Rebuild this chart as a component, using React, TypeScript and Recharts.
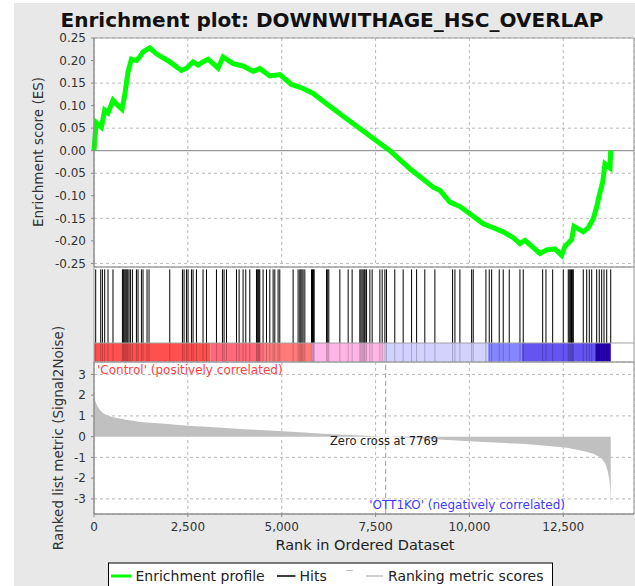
import {
  LineChart, Line, ComposedChart, Area, XAxis, YAxis, CartesianGrid,
  ReferenceLine, ReferenceArea,
} from "recharts";

const W = 635;
const H = 586;
const FONT = "DejaVu Sans";
const RANK_MAX = 14384;
const ZERO_CROSS = 7769;

const X_TICKS = [0, 2500, 5000, 7500, 10000, 12500];
const ES_TICKS = [0.25, 0.2, 0.15, 0.1, 0.05, 0, -0.05, -0.1, -0.15, -0.2, -0.25];
const METRIC_TICKS = [3, 2, 1, 0, -1, -2, -3];

// running enrichment score
const esRanks = [
  0, 30, 64, 197, 285, 373, 506, 640, 746, 818,
  906, 997, 1130, 1218, 1306, 1485, 1663, 2018, 2329, 2463,
  2639, 2772, 2905, 3038, 3305, 3438, 3705, 3971, 4238, 4416,
  4683, 4949, 5261, 5570, 5837, 6194, 6727, 7260, 7881, 8414,
  9035, 9214, 9480, 9747, 10013, 10368, 10634, 10901, 11167, 11346,
  11479, 11879, 12057, 12279, 12457, 12545, 12724, 12785, 13033, 13166,
  13299, 13390, 13459, 13550, 13611, 13745, 13764,
];
const esScores = [
  0, 0.034, 0.062, 0.052, 0.09, 0.084, 0.112, 0.1, 0.092, 0.123,
  0.175, 0.203, 0.2, 0.208, 0.219, 0.228, 0.215, 0.197, 0.178, 0.183,
  0.197, 0.19, 0.197, 0.203, 0.183, 0.208, 0.193, 0.188, 0.176, 0.182,
  0.166, 0.169, 0.147, 0.138, 0.127, 0.104, 0.071, 0.038, 0, -0.04,
  -0.081, -0.088, -0.114, -0.124, -0.14, -0.162, -0.171, -0.18, -0.193, -0.206,
  -0.199, -0.228, -0.22, -0.218, -0.232, -0.212, -0.197, -0.168, -0.18, -0.171,
  -0.151, -0.125, -0.099, -0.07, -0.029, -0.038, 0,
];

// gene set members (rank positions of the hit bars)
const hitRanks = [
  45, 179, 224, 285, 373, 506, 757, 780, 800, 825, 850, 875, 900, 933, 970, 1023,
  1130, 1173, 1263, 1306, 1413, 1466, 2018, 2356, 2399, 2463, 2505, 2596, 2639,
  2729, 2905, 2996, 3262, 3422, 3465, 3529, 3795, 3865, 3971, 4043, 4150, 4328,
  4350, 4375, 4395, 4416, 4504, 4595, 4683, 4771, 4816, 4904, 4949, 5304, 5437,
  5482, 5510, 5540, 5570, 5616, 5794, 5820, 5845, 5864, 6194, 6225, 6255, 6549,
  6770, 6876, 7081, 7110, 7140, 7170, 7200, 7222, 7260, 7348, 7409, 7615, 7676,
  7748, 7790, 8012, 8235, 8459, 8593, 8812, 9080, 9552, 9614, 9747, 10059, 10101,
  10440, 10528, 10592, 10794, 10901, 11061, 11346, 11434, 11951, 12039, 12218,
  12500, 12633, 12660, 12690, 12720, 12750, 12767, 13033, 13124, 13193, 13257,
  13390, 13459, 13523, 13585, 13657, 13764,
];

// ranked list metric (signal2noise)
const metricRanks = [
  0, 30, 80, 150, 250, 400, 600, 900, 1300, 1800, 2500, 3200, 4000, 4800, 5600,
  6100, 7100, 7769, 8500, 9300, 10000, 10800, 11500, 12100, 12600, 13000, 13300,
  13500, 13620, 13690, 13730, 13750, 13764,
];
const metricValues = [
  2.0, 1.75, 1.5, 1.3, 1.12, 1.0, 0.9, 0.8, 0.7, 0.63, 0.53, 0.45, 0.36, 0.28, 0.2,
  0.14, 0.06, 0, -0.07, -0.15, -0.22, -0.3, -0.36, -0.45, -0.53, -0.68, -0.82,
  -1.0, -1.3, -1.7, -2.1, -2.6, -3.45,
];

// heat bar under the hits
const barStarts = [0, 3100, 4500, 5800, 7740, 10500, 11400, 13350];
const barEnds = [3100, 4500, 5800, 7740, 10500, 11400, 13350, 13764];
const barColors = ["#ff5050", "#ff6878", "#ff7a7a", "#ffb6e6", "#d2d2ff", "#8585ff", "#6454f0", "#2800b8"];

const esData = esRanks.map((r, i) => ({ rank: r, es: esScores[i] }));
const metricData = metricRanks.map((r, i) => ({ rank: r, metric: metricValues[i] }));
const hitData = hitRanks.map((r) => ({ rank: r, top: 0.975 }));

const tickStyle = { fontSize: 12, fill: "#333", fontFamily: FONT };
const GRID = "#a8a8a8";
const AXIS = "#8a8a8a";

const layer: React.CSSProperties = { position: "absolute", left: 0, top: 0 };

export default function App() {
  return (
    <div style={{ position: "absolute", left: 0, top: 0, width: W, height: H, background: "#fff", overflow: "hidden", fontFamily: FONT }}>
      <div style={{ position: "absolute", left: 14, top: 3, right: 0, bottom: 0, background: "#e8e8e8" }} />
      {/* white plot backdrop */}
      <div style={{ position: "absolute", left: 94, top: 38, width: 540, height: 476, background: "#fff" }} />

      {/* enrichment score panel */}
      <div style={layer}>
        <LineChart width={W} height={H} data={esData} margin={{ top: 38, right: 1, bottom: H - 267, left: 0 }}>
          <XAxis type="number" dataKey="rank" domain={[0, RANK_MAX]} ticks={X_TICKS} hide />
          <YAxis
            type="number" domain={[-0.258, 0.25]} ticks={ES_TICKS} width={94}
            tick={tickStyle} tickFormatter={(v: number) => v.toFixed(2)}
            tickSize={3} tickMargin={5} stroke={AXIS}
          />
          <CartesianGrid stroke={GRID} strokeWidth={0.8} strokeDasharray="3 3" />
          <ReferenceLine y={0} stroke="#808080" />
          <ReferenceArea x1={0} x2={RANK_MAX} y1={-0.258} y2={0.25} fill="none" stroke="#a0a0a0" />
          <Line type="linear" dataKey="es" stroke="#00ff00" strokeWidth={5} dot={false} isAnimationActive={false} />
        </LineChart>
      </div>

      {/* hits + heat bar */}
      <div style={layer}>
        <ComposedChart width={W} height={H} data={hitData} margin={{ top: 267, right: 1, bottom: H - 362, left: 94 }}>
          <XAxis type="number" dataKey="rank" domain={[0, RANK_MAX]} hide allowDataOverflow />
          <YAxis type="number" domain={[0, 1]} hide allowDataOverflow />
          {barStarts.map((s, i) => (
            <ReferenceArea key={"b" + i} x1={s} x2={barEnds[i]} y1={0} y2={0.2} fill={barColors[i]} fillOpacity={1} stroke="none" />
          ))}
          {hitRanks.map((r, i) => (
            <ReferenceLine key={"h" + i} segment={[{ x: r, y: 0.2 }, { x: r, y: 0.975 }]} stroke="#000" strokeWidth={1} />
          ))}
          {hitRanks.map((r, i) => (
            <ReferenceLine key={"s" + i} segment={[{ x: r, y: 0 }, { x: r, y: 0.2 }]} stroke="#000" strokeOpacity={0.22} strokeWidth={1} />
          ))}
          <ReferenceLine y={0.2} stroke="#a0a0a0" />
          <ReferenceArea x1={0} x2={RANK_MAX} y1={0} y2={1} fill="none" stroke="#a0a0a0" />
          <Line type="linear" dataKey="top" stroke="none" dot={false} isAnimationActive={false} />
        </ComposedChart>
      </div>

      {/* ranked list metric panel */}
      <div style={layer}>
        <ComposedChart width={W} height={H} data={metricData} margin={{ top: 362, right: 1, bottom: 22, left: 0 }}>
          <XAxis
            type="number" dataKey="rank" domain={[0, RANK_MAX]} ticks={X_TICKS} height={50}
            tick={tickStyle} tickFormatter={(v: number) => v.toLocaleString("en-US")}
            tickSize={3} tickMargin={5} stroke={AXIS}
          />
          <YAxis
            type="number" domain={[-3.73, 3.6]} ticks={METRIC_TICKS} width={94}
            tick={tickStyle} tickSize={3} tickMargin={5} stroke={AXIS}
          />
          <CartesianGrid stroke={GRID} strokeWidth={0.8} strokeDasharray="3 3" />
          <Area type="linear" dataKey="metric" baseValue={0} stroke="none" fill="#c0c0c0" fillOpacity={1} isAnimationActive={false} />
          <ReferenceLine x={ZERO_CROSS} stroke="#a0a0a0" strokeDasharray="5 3" />
          <ReferenceArea x1={0} x2={RANK_MAX} y1={-3.73} y2={3.6} fill="none" stroke="#a0a0a0" />
        </ComposedChart>
      </div>

      {/* titles, notes and legend */}
      <svg width={W} height={H} style={{ ...layer, pointerEvents: "none" }} fontFamily={FONT}>
        <text x={332} y={26.5} textAnchor="middle" fontSize={20} fontWeight="bold" fill="#111">
          Enrichment plot: DOWNWITHAGE_HSC_OVERLAP
        </text>
        <text transform="translate(38,152) rotate(-90)" textAnchor="middle" dominantBaseline="central" fontSize={13.5} fill="#333">
          Enrichment score (ES)
        </text>
        <text transform="translate(57.5,438) rotate(-90)" textAnchor="middle" dominantBaseline="central" fontSize={13.5} fill="#333">
          Ranked list metric (Signal2Noise)
        </text>
        <text x={97} y={373.5} fontSize={12} fill="#ff4040">'Control' (positively correlated)</text>
        <text x={565} y={509} textAnchor="end" fontSize={12} fill="#3c3cff">'OTT1KO' (negatively correlated)</text>
        <text x={384} y={444.5} textAnchor="middle" fontSize={11.5} fill="#222">Zero cross at {ZERO_CROSS}</text>
        <text x={365} y={550} textAnchor="middle" fontSize={14.5} fill="#222">Rank in Ordered Dataset</text>

        <rect x={108.5} y={563} width={444} height={30} fill="#fff" stroke="#000" />
        <line x1={111} x2={131.5} y1={576} y2={576} stroke="#00ff00" strokeWidth={3} />
        <text x={135.5} y={580.5} fontSize={14} fill="#222">Enrichment profile</text>
        <line x1={277} x2={295.5} y1={576} y2={576} stroke="#000" strokeWidth={1.5} />
        <text x={299.5} y={580.5} fontSize={14} fill="#222">Hits</text>
        <line x1={346} x2={353} y1={570.5} y2={570.5} stroke="#c8c8c8" strokeWidth={1} />
        <line x1={366} x2={383} y1={576} y2={576} stroke="#c0c0c0" strokeWidth={1.5} />
        <text x={388} y={580.5} fontSize={14} fill="#222">Ranking metric scores</text>
      </svg>
    </div>
  );
}
